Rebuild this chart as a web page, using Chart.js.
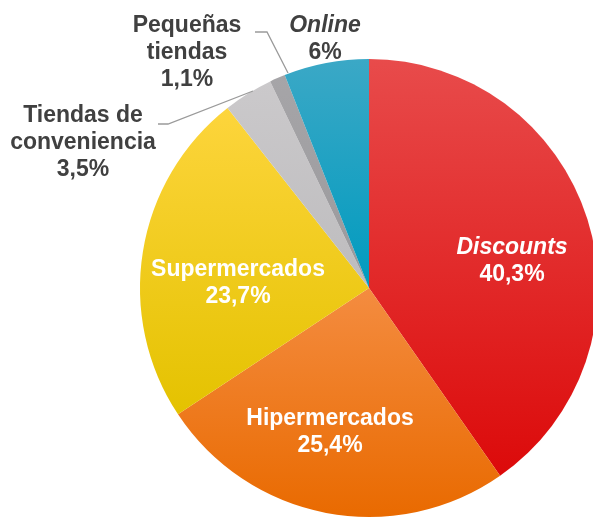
<!DOCTYPE html>
<html>
<head>
<meta charset="utf-8">
<script src="https://cdn.jsdelivr.net/npm/chart.js@4.4.0/dist/chart.umd.min.js"></script>
<style>
  html, body { margin: 0; padding: 0; background: #fff; overflow: hidden; }
  #wrap { position: absolute; left: 0; top: 0; width: 738px; height: 576px; }
</style>
</head>
<body>
<div id="wrap"><canvas id="chartCanales"></canvas></div>
<script>
// datos
const categorias = ['Discounts', 'Hipermercados', 'Supermercados', 'Tiendas de conveniencia', 'Pequeñas tiendas', 'Online'];
const valores = [40.3, 25.4, 23.7, 3.5, 1.1, 6];
const etiquetas = ['40,3%', '25,4%', '23,7%', '3,5%', '1,1%', '6%'];

// colores (arriba, abajo) por porción
const coloresArriba = ['#e84b4b', '#f48c40', '#fdd53c', '#cbc9cb', '#a6a5a8', '#3ba8c6'];
const coloresAbajo = ['#dc0a0a', '#e96a00', '#e4c200', '#bdbcbe', '#9a999c', '#009bbf'];

// posición del texto respecto al centro del pie
const textos = [
  { lineas: ['Discounts', etiquetas[0]], dx: 143, dy: -40, color: '#fff', italica: [true, false] },
  { lineas: ['Hipermercados', etiquetas[1]], dx: -39, dy: 131, color: '#fff' },
  { lineas: ['Supermercados', etiquetas[2]], dx: -131, dy: -18, color: '#fff' },
  { lineas: ['Tiendas de', 'conveniencia', etiquetas[3]], dx: -286, dy: -172, color: '#404040' },
  { lineas: ['Pequeñas', 'tiendas', etiquetas[4]], dx: -182, dy: -262, color: '#404040' },
  { lineas: ['Online', etiquetas[5]], dx: -44, dy: -262, color: '#404040', italica: [true, false] }
];

const guias = [
  null, null, null,
  [[-211, -164], [-201, -164], [-116, -197]],
  [[-114, -256], [-102, -256], [-81, -215]],
  null
];

function gradiente(ctx) {
  const chart = ctx.chart;
  const area = chart.chartArea;
  const i = ctx.dataIndex;
  if (!area) return coloresArriba[i];
  const cy = (area.top + area.bottom) / 2;
  const r = Math.min(area.right - area.left, area.bottom - area.top) / 2;
  const total = valores.reduce((s, v) => s + v, 0);
  let ini = 0;
  for (let k = 0; k < i; k++) ini += valores[k];
  const a0 = -Math.PI / 2 + ini / total * Math.PI * 2;
  const a1 = a0 + valores[i] / total * Math.PI * 2;
  let yMin = cy, yMax = cy;
  for (let s = 0; s <= 60; s++) {
    const y = cy + Math.sin(a0 + (a1 - a0) * s / 60) * r;
    yMin = Math.min(yMin, y);
    yMax = Math.max(yMax, y);
  }
  const g = chart.ctx.createLinearGradient(0, yMin, 0, yMax);
  g.addColorStop(0, coloresArriba[i]);
  g.addColorStop(1, coloresAbajo[i]);
  return g;
}

const textosPlugin = {
  id: 'textos',
  afterDatasetsDraw(chart) {
    const ctx = chart.ctx;
    const arc0 = chart.getDatasetMeta(0).data[0];
    const cx = arc0.x, cy = arc0.y;
    ctx.save();
    ctx.strokeStyle = '#9a9a9a';
    ctx.lineWidth = 1.3;
    guias.forEach(g => {
      if (!g) return;
      ctx.beginPath();
      g.forEach((p, i) => i ? ctx.lineTo(cx + p[0], cy + p[1]) : ctx.moveTo(cx + p[0], cy + p[1]));
      ctx.stroke();
    });
    ctx.textAlign = 'center';
    ctx.textBaseline = 'middle';
    textos.forEach(t => {
      ctx.fillStyle = t.color;
      t.lineas.forEach((l, i) => {
        const it = t.italica && t.italica[i] ? 'italic ' : '';
        ctx.font = it + 'bold 23px "Liberation Sans", Arial, sans-serif';
        ctx.fillText(l, cx + t.dx, cy + t.dy + i * 27);
      });
    });
    ctx.restore();
  }
};

new Chart(document.getElementById('chartCanales').getContext('2d'), {
  type: 'pie',
  data: {
    labels: categorias,
    datasets: [{
      data: valores,
      backgroundColor: gradiente,
      borderWidth: 0
    }]
  },
  options: {
    responsive: true,
    maintainAspectRatio: false,
    animation: false,
    layout: { padding: 59 },
    plugins: {
      legend: { display: false },
      tooltip: { enabled: false }
    }
  },
  plugins: [textosPlugin]
});
</script>
</body>
</html>
